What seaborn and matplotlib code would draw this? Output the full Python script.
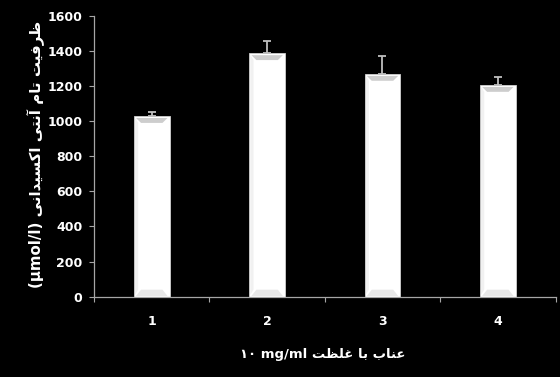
import matplotlib
matplotlib.use("Agg")
import matplotlib.pyplot as plt
from matplotlib.patches import Polygon
import seaborn as sns
import pandas as pd

# ---- data ----
categories = ["1", "2", "3", "4"]
means = [1030, 1388, 1270, 1207]
errors = [25, 66, 102, 47]
y_ticks = [0, 200, 400, 600, 800, 1000, 1200, 1400, 1600]

x_title = "عناب با غلظت"
x_unit = "۱۰ mg/ml"
y_title = "ظرفیت تام آنتی اکسیدانی"
y_unit = "(µmol/l)"

# ---- minimal Persian shaping (presentation forms, visual order) ----
FORMS = {
    "ا": ("\uFE8D", "\uFE8E", None, None),
    "آ": ("\uFE81", "\uFE82", None, None),
    "د": ("\uFEA9", "\uFEAA", None, None),
    "ر": ("\uFEAD", "\uFEAE", None, None),
    "ب": ("\uFE8F", "\uFE90", "\uFE91", "\uFE92"),
    "ت": ("\uFE95", "\uFE96", "\uFE97", "\uFE98"),
    "س": ("\uFEB1", "\uFEB2", "\uFEB3", "\uFEB4"),
    "ظ": ("\uFEC5", "\uFEC6", "\uFEC7", "\uFEC8"),
    "ع": ("\uFEC9", "\uFECA", "\uFECB", "\uFECC"),
    "غ": ("\uFECD", "\uFECE", "\uFECF", "\uFED0"),
    "ف": ("\uFED1", "\uFED2", "\uFED3", "\uFED4"),
    "ل": ("\uFEDD", "\uFEDE", "\uFEDF", "\uFEE0"),
    "م": ("\uFEE1", "\uFEE2", "\uFEE3", "\uFEE4"),
    "ن": ("\uFEE5", "\uFEE6", "\uFEE7", "\uFEE8"),
    "ی": ("\uFBFC", "\uFBFD", "\uFBFE", "\uFBFF"),
    "ک": ("\uFB8E", "\uFB8F", "\uFB90", "\uFB91"),
}


def joins_next(ch):
    f = FORMS.get(ch)
    return f is not None and f[2] is not None


def shape_word(word):
    out = []
    for i, ch in enumerate(word):
        f = FORMS.get(ch)
        if f is None:
            out.append(ch)
            continue
        prev_join = i > 0 and joins_next(word[i - 1])
        next_join = i + 1 < len(word) and word[i + 1] in FORMS and f[2] is not None
        if prev_join and next_join:
            out.append(f[3])
        elif prev_join:
            out.append(f[1])
        elif next_join:
            out.append(f[2])
        else:
            out.append(f[0])
    return "".join(reversed(out))


def rtl(text):
    return " ".join(shape_word(w) for w in reversed(text.split(" ")))


# ---- figure ----
sns.set_theme(style="dark")
plt.rcParams["font.family"] = ["DejaVu Sans"]

fig = plt.figure(figsize=(5.6, 3.77), dpi=100, facecolor="black")
ax = fig.add_axes([0.168, 0.213, 0.824, 0.745])
ax.set_facecolor("black")

df = pd.DataFrame({"cat": categories, "val": means})
sns.barplot(data=df, x="cat", y="val", color="white", width=0.31,
            errorbar=None, saturation=1, ax=ax,
            edgecolor="#d0d0d0", linewidth=0.6)

# bevel shading on each bar
for p in ax.patches:
    x0, w, h = p.get_x(), p.get_width(), p.get_height()
    ax.add_patch(Polygon([(x0 + w * 0.06, h - 12), (x0 + w * 0.94, h - 12),
                          (x0 + w * 0.80, h - 40), (x0 + w * 0.20, h - 40)],
                         closed=True, facecolor="#bdbdbd", edgecolor="none",
                         alpha=0.75, zorder=3))
    ax.add_patch(Polygon([(x0 + w * 0.06, 4), (x0 + w * 0.94, 4),
                          (x0 + w * 0.80, 40), (x0 + w * 0.20, 40)],
                         closed=True, facecolor="#d9d9d9", edgecolor="none",
                         alpha=0.6, zorder=3))
    ax.add_patch(Polygon([(x0 + w * 0.03, 10), (x0 + w * 0.12, 40),
                          (x0 + w * 0.12, h - 40), (x0 + w * 0.03, h - 10)],
                         closed=True, facecolor="#e8e8e8", edgecolor="none",
                         alpha=0.6, zorder=3))

ax.errorbar(range(len(categories)), means, yerr=[[0] * len(errors), errors],
            fmt="none", ecolor="#bfbfbf", elinewidth=1.3, capsize=2.8,
            capthick=1.3, zorder=2)

ax.set_xlim(-0.5, len(categories) - 0.5)
ax.set_ylim(0, 1600)
ax.set_yticks(y_ticks)
ax.set_yticklabels([str(v) for v in y_ticks])
ax.set_xticks(range(len(categories)))
ax.set_xticklabels(categories)
ax.set_xticks([i - 0.5 for i in range(len(categories) + 1)], minor=True)

for s in ["top", "right"]:
    ax.spines[s].set_visible(False)
for s in ["left", "bottom"]:
    ax.spines[s].set_visible(True)
    ax.spines[s].set_color("#a6a6a6")
    ax.spines[s].set_linewidth(0.9)

ax.grid(False)
ax.tick_params(axis="y", which="major", left=True, length=3.5, width=0.8,
               color="#a6a6a6", pad=5.0, labelcolor="white", labelsize=9)
ax.tick_params(axis="x", which="major", bottom=True, length=0, pad=13,
               labelcolor="white", labelsize=9)
ax.tick_params(axis="x", which="minor", bottom=True, length=3.5, width=0.8,
               color="#a6a6a6")
for lab in ax.get_yticklabels() + ax.get_xticklabels():
    lab.set_fontweight("bold")

ax.set_xlabel(x_unit + " " + rtl(x_title), color="white", fontsize=9.5,
              fontweight="bold")
ax.xaxis.set_label_coords(0.495, -0.183)
ax.set_ylabel(y_unit + " " + rtl(y_title), color="white", fontsize=10.8,
              fontweight="bold")
ax.yaxis.set_label_coords(-0.106, 0.505)

fig.savefig("out.png", dpi=100, facecolor="black")
